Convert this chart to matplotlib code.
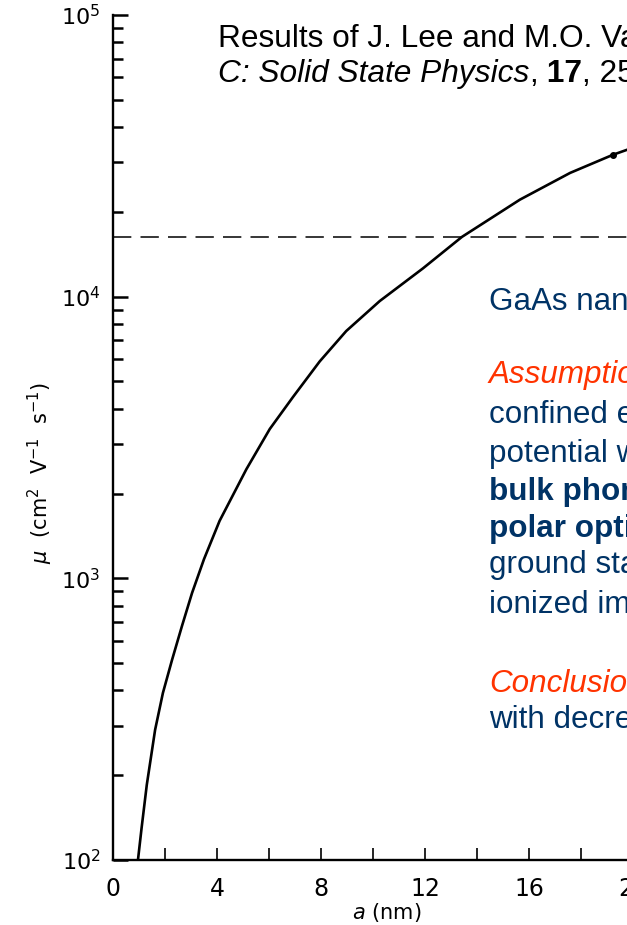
import matplotlib
matplotlib.use("Agg")
import matplotlib.pyplot as plt
from matplotlib.ticker import MultipleLocator, LogLocator, NullFormatter

# mobility vs wire width
width_nm = [0.96, 1.1, 1.3, 1.62, 1.92, 2.27, 2.65, 3.04, 3.5, 4.1, 5.13,
            6.03, 6.92, 7.95, 8.97, 10.26, 11.92, 13.42, 15.65, 17.58,
            19.23, 19.8]
mobility = [100, 130, 185, 290, 392, 513, 676, 887, 1170, 1600, 2440,
            3390, 4400, 5890, 7550, 9650, 12600, 16300, 22100, 27500,
            31900, 33300]
bulk_mobility = 16300
marker_pt = (19.23, 31900)

title_line1 = "Results of J. Lee and M.O. Vassell, J. Phys."
title_line2 = [("C: Solid State Physics", "italic", "normal"),
               (",", "normal", "normal"),
               (" 17", "normal", "bold"),
               (", 2525 (1984)", "normal", "normal")]

navy = "#003366"
red = "#ff3300"
slide_font = "Liberation Sans"

fig = plt.figure(figsize=(6.27, 9.25), dpi=100)
ax = fig.add_axes([113/627, 65/925, 624/627, 845/925])

ax.plot(width_nm, mobility, color="black", lw=1.9)
ax.plot(*marker_pt, "o", color="black", ms=4)
ax.axhline(bulk_mobility, color="black", lw=1.1, dashes=(12, 6))

ax.set_yscale("log")
ax.set_xlim(0, 24)
ax.set_ylim(1e2, 1e5)

ax.xaxis.set_major_locator(MultipleLocator(4))
ax.xaxis.set_minor_locator(MultipleLocator(2))
ax.yaxis.set_major_locator(LogLocator(base=10))
ax.yaxis.set_minor_locator(LogLocator(base=10, subs=range(2, 10)))
ax.yaxis.set_minor_formatter(NullFormatter())

ax.tick_params(axis="x", which="both", direction="in", length=8.5, width=1.2,
               pad=12, labelsize=17)
ax.tick_params(axis="y", which="major", direction="in", length=11, width=1.8,
               pad=9, labelsize=16)
ax.tick_params(axis="y", which="minor", direction="in", length=7, width=1.8)

ax.spines["top"].set_visible(False)
ax.spines["right"].set_visible(False)
ax.spines["left"].set_linewidth(1.7)
ax.spines["bottom"].set_linewidth(1.7)

ax.set_xlabel(r"$a$ (nm)", fontsize=15)
ax.xaxis.set_label_coords(0.438, -0.062)
ax.xaxis.label.set_va("center")
ax.set_ylabel(r"$\mu$  (cm$^2$  V$^{-1}$  s$^{-1}$)", fontsize=15)
ax.yaxis.set_label_coords(-0.117, 0.458)
ax.yaxis.label.set_va("center")

# slide text laid over the figure
renderer = fig.canvas.get_renderer()


def put_runs(x, y, runs, **kw):
    for s, st, w in runs:
        t = fig.text(x, y, s, style=st, weight=w, **kw)
        x += t.get_window_extent(renderer=renderer).width / fig.bbox.width


fig.text(218/627, 1 - 47/925, title_line1, fontsize=22.8, family=slide_font,
         color="black", va="baseline")
put_runs(218/627, 1 - 82/925, title_line2, fontsize=22.8, family=slide_font,
         color="black", va="baseline")

blue_lines = [
    (310, "GaAs nanowires", navy, "normal", "normal"),
    (383, "Assumptions:", red, "italic", "normal"),
    (423, "confined electrons in infinite", navy, "normal", "normal"),
    (462, "potential well,", navy, "normal", "normal"),
    (500, "bulk phonons,", navy, "normal", "bold"),
    (537, "polar optical phonons,", navy, "normal", "bold"),
    (573, "ground state subband only,", navy, "normal", "normal"),
    (613, "ionized impurities neglected", navy, "normal", "normal"),
    (692, "Conclusion:", red, "italic", "normal"),
    (728, "with decreasing wire width", navy, "normal", "normal"),
]
for y, s, c, st, w in blue_lines:
    fig.text(489/627, 1 - y/925, s, fontsize=22.6, family=slide_font,
             color=c, style=st, weight=w, va="baseline")

fig.savefig("out.png", dpi=100)
